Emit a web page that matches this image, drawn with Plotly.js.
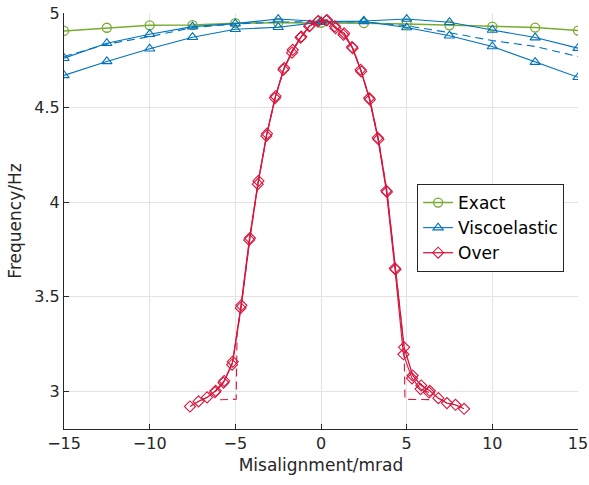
<!DOCTYPE html>
<html>
<head>
<meta charset="utf-8">
<script src="https://cdn.plot.ly/plotly-3.0.1.min.js"></script>
<style>html,body{margin:0;padding:0;background:#fff;}#chart{width:589px;height:485px;}</style>
</head>
<body>
<div id="chart"></div>
<script>
// ---- data ----
const gridX = [-15, -12.5, -10, -7.5, -5, -2.5, 0, 2.5, 5, 7.5, 10, 12.5, 15];
const exactY = [4.905, 4.922, 4.935, 4.936, 4.946, 4.948, 4.948, 4.946, 4.942, 4.935, 4.928, 4.923, 4.907];
const viscoUpperY = [4.761, 4.840, 4.888, 4.928, 4.944, 4.968, 4.955, 4.958, 4.968, 4.951, 4.910, 4.870, 4.814];
const viscoLowerY = [4.670, 4.744, 4.811, 4.872, 4.914, 4.925, 4.952, 4.955, 4.923, 4.880, 4.823, 4.740, 4.660];
const viscoDashY = [4.770, 4.835, 4.875, 4.923, 4.942, 4.952, 4.955, 4.952, 4.933, 4.896, 4.854, 4.823, 4.770];

const overX = [-7.65, -7.15, -6.65, -6.15, -5.65, -5.15, -4.65, -4.15, -3.65, -3.15, -2.65, -2.15, -1.65, -1.15, -0.65, -0.15,
               0.35, 0.85, 1.35, 1.85, 2.35, 2.85, 3.35, 3.85, 4.35, 4.85, 5.35, 5.85, 6.35, 6.85, 7.35, 7.85, 8.35];
const overY = [2.919, 2.946, 2.967, 3.002, 3.054, 3.156, 3.454, 3.810, 4.112, 4.362, 4.560, 4.709, 4.805, 4.875, 4.933, 4.958,
               4.963, 4.920, 4.893, 4.814, 4.691, 4.542, 4.332, 4.054, 3.644, 3.232, 3.083, 3.030, 3.002, 2.963, 2.937, 2.928, 2.907];
const over2X = [-6.19, -5.69, -5.19, -4.69, -4.19, -3.69, -3.19, -2.69, -2.19, -1.69, -1.19, -0.69, -0.19,
                0.31, 0.81, 1.31, 1.81, 2.31, 2.81, 3.31, 3.81, 4.31, 4.81, 5.31, 5.81, 6.31];
const over2Y = [2.995, 3.045, 3.140, 3.440, 3.800, 4.095, 4.350, 4.550, 4.700, 4.790, 4.870, 4.930, 4.955,
                4.960, 4.930, 4.885, 4.820, 4.700, 4.550, 4.340, 4.060, 3.650, 3.195, 3.068, 3.011, 2.993];
const overDashX = [-5.9, -4.95, -4.9, -4.65, -4.15, -3.65, -3.15, -2.65, -2.15, -1.65, -1.15, -0.65, -0.15,
                   0.35, 0.85, 1.35, 1.85, 2.35, 2.85, 3.35, 3.85, 4.35, 4.85, 4.9, 6.5];
const overDashY = [2.955, 2.957, 3.300, 3.454, 3.810, 4.112, 4.362, 4.560, 4.709, 4.805, 4.875, 4.933, 4.958,
                   4.963, 4.920, 4.893, 4.814, 4.691, 4.542, 4.332, 4.054, 3.644, 3.232, 2.957, 2.955];

const xTicks = [-15, -10, -5, 0, 5, 10, 15];
const yTicks = [3, 3.5, 4, 4.5, 5];
const names = ['Exact', 'Viscoelastic', 'Over'];

const GREEN = '#77AC30', BLUE = '#0072BD', RED = '#D7173D';
const FONT = 'DejaVu Sans, sans-serif';

const traces = [
  {x: gridX, y: exactY, name: names[0], mode: 'lines+markers', line: {color: GREEN, width: 1.5},
   marker: {symbol: 'circle-open', size: 9, color: GREEN, line: {width: 1.3}}},
  {x: gridX, y: viscoUpperY, name: names[1], mode: 'lines+markers', line: {color: BLUE, width: 1.1},
   marker: {symbol: 'triangle-up-open', size: 9, color: BLUE, line: {width: 1.1}}},
  {x: gridX, y: viscoLowerY, name: names[1], showlegend: false, mode: 'lines+markers', line: {color: BLUE, width: 1.1},
   marker: {symbol: 'triangle-up-open', size: 9, color: BLUE, line: {width: 1.1}}},
  {x: gridX, y: viscoDashY, name: names[1], showlegend: false, mode: 'lines', line: {color: BLUE, width: 1.1, dash: '8px,5px'}},
  {x: overX, y: overY, name: names[2], mode: 'lines+markers', line: {color: RED, width: 1.3},
   marker: {symbol: 'diamond-open', size: 8.5, color: RED, line: {width: 1.1}}},
  {x: over2X, y: over2Y, name: names[2], showlegend: false, mode: 'lines+markers', line: {color: RED, width: 1.1},
   marker: {symbol: 'diamond-open', size: 8.5, color: RED, line: {width: 1.1}}},
  {x: overDashX, y: overDashY, name: names[2], showlegend: false, mode: 'lines', line: {color: RED, width: 1.1, dash: '8px,5px'}}
];

const axisCommon = {
  showline: true, linecolor: '#262626', linewidth: 1, mirror: false,
  ticks: 'inside', ticklen: 5, tickcolor: '#262626', tickwidth: 1,
  showgrid: true, gridcolor: '#e3e3e3', gridwidth: 1, zeroline: false,
  tickfont: {family: FONT, size: 16, color: '#262626'}
};

const layout = {
  width: 589, height: 485,
  margin: {l: 64, r: 11, t: 13, b: 56},
  paper_bgcolor: '#fff', plot_bgcolor: '#fff',
  font: {family: FONT, color: '#262626'},
  showlegend: true,
  xaxis: Object.assign({}, axisCommon, {
    range: [-15, 15], tickvals: xTicks, ticktext: xTicks.map(v => v < 0 ? '\u2212' + Math.abs(v) : String(v)),
    title: {text: 'Misalignment/mrad', font: {family: FONT, size: 17, color: '#262626'}, standoff: 6}
  }),
  yaxis: Object.assign({}, axisCommon, {
    range: [2.8, 5], tickvals: yTicks, ticktext: yTicks.map(String),
    title: {text: 'Frequency/Hz', font: {family: FONT, size: 17, color: '#262626'}, standoff: 8}
  }),
  legend: {
    x: 0.687, y: 0.589, xanchor: 'left', yanchor: 'top',
    bordercolor: '#262626', borderwidth: 1, bgcolor: '#fff',
    font: {family: FONT, size: 17, color: '#000'},
    itemwidth: 30, tracegroupgap: 0
  }
};

Plotly.newPlot('chart', traces, layout, {displayModeBar: false, staticPlot: true});
</script>
</body>
</html>
